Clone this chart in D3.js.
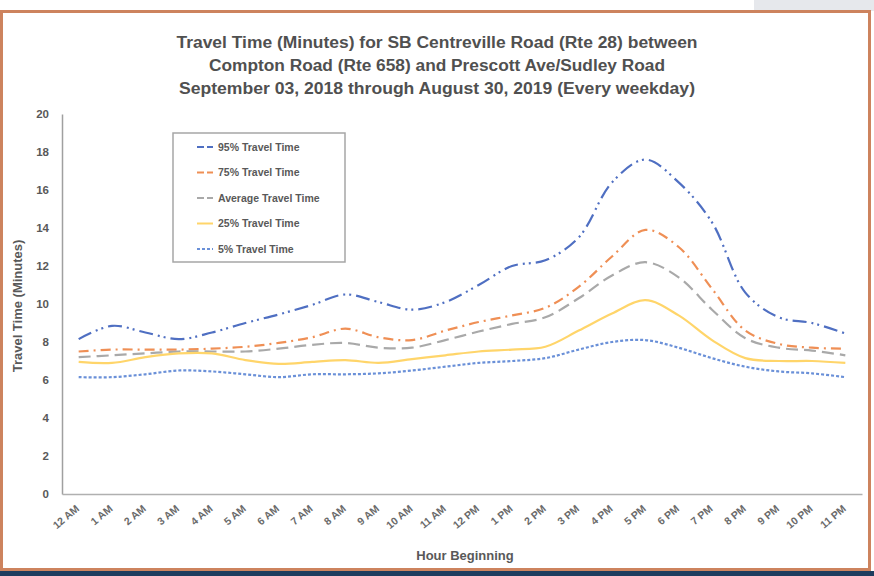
<html>
  <head>
    <meta charset="utf-8">
    <title>SB Centreville Road travel time</title>
    <script src="https://d3js.org/d3.v7.min.js"></script>
    <style>
      body { margin: 0; background: #fff; }
      svg text { font-family: "Liberation Sans", Arial, sans-serif; }
    </style>
  </head>
  <body>
    <div id="chart"></div>
    <script>
      // Input data (minutes)
      var hours = ["12 AM","1 AM","2 AM","3 AM","4 AM","5 AM","6 AM","7 AM","8 AM","9 AM","10 AM","11 AM",
                   "12 PM","1 PM","2 PM","3 PM","4 PM","5 PM","6 PM","7 PM","8 PM","9 PM","10 PM","11 PM"]
      var p95 = [8.15,8.85,8.5,8.15,8.5,9.0,9.45,9.95,10.5,10.1,9.7,10.1,11.0,12.0,12.3,13.5,16.4,17.6,16.4,14.3,10.6,9.3,9.0,8.45]
      var p75 = [7.5,7.6,7.6,7.6,7.65,7.75,7.95,8.25,8.7,8.25,8.1,8.6,9.05,9.4,9.8,10.9,12.5,13.9,13.0,10.8,8.6,7.9,7.7,7.65]
      var avg = [7.2,7.3,7.4,7.5,7.5,7.5,7.65,7.85,7.95,7.7,7.7,8.1,8.55,8.95,9.3,10.3,11.5,12.2,11.4,9.7,8.2,7.7,7.55,7.3]
      var p25 = [6.95,6.9,7.2,7.4,7.4,7.05,6.85,6.95,7.05,6.9,7.1,7.3,7.5,7.6,7.75,8.6,9.5,10.2,9.4,8.1,7.15,7.0,7.0,6.9]
      var p5  = [6.15,6.15,6.3,6.5,6.45,6.3,6.15,6.3,6.3,6.35,6.5,6.7,6.9,7.0,7.15,7.6,8.0,8.1,7.7,7.15,6.7,6.45,6.35,6.15]
      var yTicks = [0,2,4,6,8,10,12,14,16,18,20]

      var series = [
        {name: "95% Travel Time", values: p95, color: "#4f6fc2", dash: "14,5,2,4,2,5"},
        {name: "75% Travel Time", values: p75, color: "#ef8f55", dash: "10,5,2,5"},
        {name: "Average Travel Time", values: avg, color: "#a9a9a9", dash: "12,6"},
        {name: "25% Travel Time", values: p25, color: "#ffd56a", dash: null},
        {name: "5% Travel Time", values: p5, color: "#6a90d8", dash: "3,2"}
      ]

      var W = 874, H = 576
      var mLeft = 62, mRight = 862, mTop = 114, mBottom = 494

      var svg = d3.select("#chart").append("svg")
        .attr("width", W).attr("height", H)

      // frame round the slide
      svg.append("rect").attr("x", 754).attr("y", 0).attr("width", 120).attr("height", 11).attr("fill", "#e6e8ec")
      svg.append("rect").attr("x", 1.5).attr("y", 11.5).attr("width", 868).attr("height", 558)
        .attr("fill", "#fff").attr("stroke", "#cd835e").attr("stroke-width", 3)
      svg.append("rect").attr("x", 0).attr("y", 571).attr("width", W).attr("height", 5).attr("fill", "#1d3c5e")

      var x = d3.scaleBand().domain(hours).range([mLeft, mRight])
      var y = d3.scaleLinear().domain([0, 20]).range([mBottom, mTop])

      // title
      var title = ["Travel Time (Minutes) for SB Centreville Road (Rte 28) between",
                   "Compton Road (Rte 658) and Prescott Ave/Sudley Road",
                   "September 03, 2018 through August 30, 2019 (Every weekday)"]
      var titleLen = [521, 456, 516]
      svg.selectAll(".title").data(title).enter().append("text")
        .attr("x", 437).attr("y", function(d, i){ return 48 + i * 23 })
        .attr("text-anchor", "middle")
        .attr("textLength", function(d, i){ return titleLen[i] })
        .attr("lengthAdjust", "spacingAndGlyphs")
        .style("font-size", "16px").style("font-weight", "bold").style("fill", "#505050")
        .text(function(d){ return d })

      // axes
      var yAxis = svg.append("g").attr("transform", "translate(" + mLeft + ",0)")
        .call(d3.axisLeft(y).tickValues(yTicks).tickSize(0).tickPadding(13))
      yAxis.select(".domain").attr("stroke", "#a0a0a0").attr("stroke-width", 1.5)
      yAxis.selectAll("text").style("font-size", "11.5px").style("font-weight", "bold").style("fill", "#595959")

      var xAxis = svg.append("g").attr("transform", "translate(0," + mBottom + ")")
        .call(d3.axisBottom(x).tickSize(0))
      xAxis.select(".domain").attr("stroke", "#b0b0b0").attr("stroke-width", 1.5)
      xAxis.selectAll("text")
        .style("font-size", "10.5px").style("font-weight", "bold").style("fill", "#6a6a6a")
        .attr("text-anchor", "end").attr("y", 0).attr("dy", "0.35em")
        .attr("transform", "translate(-1,13) rotate(-40)")

      svg.append("text").attr("x", 465).attr("y", 560).attr("text-anchor", "middle")
        .style("font-size", "13px").style("font-weight", "bold").style("fill", "#595959")
        .text("Hour Beginning")
      svg.append("text").attr("transform", "translate(22,306) rotate(-90)").attr("text-anchor", "middle")
        .style("font-size", "13px").style("font-weight", "bold").style("fill", "#595959")
        .text("Travel Time (Minutes)")

      // lines
      var line = d3.line()
        .x(function(d, i){ return x(hours[i]) + x.bandwidth() / 2 })
        .y(function(d){ return y(d) })
        .curve(d3.curveCatmullRom.alpha(0.5))

      svg.selectAll(".series").data(series).enter().append("path")
        .attr("d", function(d){ return line(d.values) })
        .attr("fill", "none")
        .attr("stroke", function(d){ return d.color })
        .attr("stroke-width", 2.2)
        .attr("stroke-dasharray", function(d){ return d.dash })

      // legend
      var lg = svg.append("g").attr("transform", "translate(173,133)")
      lg.append("rect").attr("width", 172).attr("height", 129)
        .attr("fill", "#fff").attr("stroke", "#a6a6a6").attr("stroke-width", 1.5)
      var item = lg.selectAll(".item").data(series).enter().append("g")
        .attr("transform", function(d, i){ return "translate(0," + (14 + i * 25.5) + ")" })
      item.append("line").attr("x1", 24).attr("x2", 40)
        .attr("stroke", function(d){ return d.color }).attr("stroke-width", 2)
        .attr("stroke-dasharray", function(d){ return d.dash ? (d.dash === "3,2" ? "3,2" : "7,3") : null })
      item.append("text").attr("x", 45).attr("y", 3.5)
        .style("font-size", "10.5px").style("font-weight", "bold").style("fill", "#595959")
        .text(function(d){ return d.name })
    </script>
  </body>
</html>
